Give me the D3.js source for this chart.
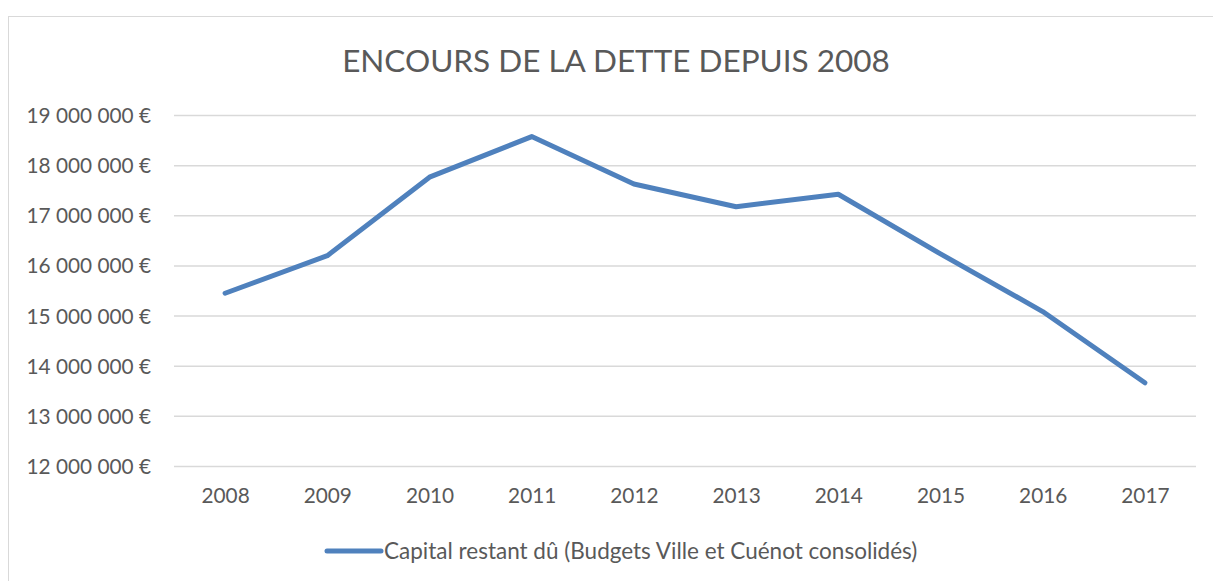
<!DOCTYPE html>
<html>
<head>
<meta charset="utf-8">
<script src="https://cdn.jsdelivr.net/npm/d3@7"></script>
<style>
  body { margin: 0; background: #fff; }
  text { font-family: Lato, "Open Sans", sans-serif; fill: #595959; }
</style>
</head>
<body>
<script>
// données
const annees = ["2008", "2009", "2010", "2011", "2012", "2013", "2014", "2015", "2016", "2017"];
const capital = [15445000, 16195000, 17760000, 18570000, 17625000, 17170000, 17420000, 16230000, 15080000, 13660000];
const graduations = [12000000, 13000000, 14000000, 15000000, 16000000, 17000000, 18000000, 19000000];
const titre = "ENCOURS DE LA DETTE DEPUIS 2008";
const serieNom = "Capital restant dû (Budgets Ville et Cuénot consolidés)";

const largeur = 1213, hauteur = 581;
const marge = { haut: 115, droite: 17, bas: 115, gauche: 174 };
const bleu = "#4F81BD";

const svg = d3.select("body").append("svg")
    .attr("width", largeur)
    .attr("height", hauteur);

// cadre du graphique
svg.append("rect")
    .attr("x", 8.5).attr("y", 16.5)
    .attr("width", largeur + 10).attr("height", hauteur)
    .attr("fill", "none")
    .attr("stroke", "#d9d9d9")
    .attr("stroke-width", 1);

// titre
svg.append("text")
    .attr("x", 616).attr("y", 72)
    .attr("text-anchor", "middle")
    .style("font-size", "31.5px")
    .text(titre);

const x = d3.scalePoint()
    .domain(annees)
    .range([marge.gauche, largeur - marge.droite])
    .padding(0.5);

const y = d3.scaleLinear()
    .domain([12000000, 19000000])
    .range([466, 115]);

// format français : espaces comme séparateur de milliers
const fr = d3.formatLocale({ decimal: ",", thousands: "\u00a0", grouping: [3], currency: ["", " €"] });
const fmt = v => fr.format(",")(v) + " €";

// axe vertical + quadrillage
const axeY = svg.append("g")
    .attr("transform", `translate(${marge.gauche},0)`)
    .call(d3.axisLeft(y)
        .tickValues(graduations)
        .tickSize(-(largeur - marge.droite - marge.gauche))
        .tickPadding(23)
        .tickFormat(fmt));
axeY.select(".domain").remove();
axeY.selectAll(".tick line").attr("stroke", "#d9d9d9").attr("stroke-width", 1.5);
axeY.selectAll(".tick text")
    .attr("dy", "0.36em")
    .style("font-size", "20.8px")
    .style("fill", "#595959")
    .style("font-family", "Lato, sans-serif");

// axe horizontal
const axeX = svg.append("g")
    .attr("transform", "translate(0,466)")
    .call(d3.axisBottom(x).tickSize(0).tickPadding(22));
axeX.select(".domain").remove();
axeX.selectAll(".tick text")
    .style("font-size", "20.8px")
    .style("fill", "#595959")
    .style("font-family", "Lato, sans-serif");

// courbe
const ligne = d3.line()
    .x((d, i) => x(annees[i]))
    .y(d => y(d));

svg.append("path")
    .datum(capital)
    .attr("d", ligne)
    .attr("fill", "none")
    .attr("stroke", bleu)
    .attr("stroke-width", 5)
    .attr("stroke-linejoin", "round")
    .attr("stroke-linecap", "round");

// légende
const leg = svg.append("g").attr("transform", "translate(0,551)");
leg.append("line")
    .attr("x1", 327).attr("x2", 381)
    .attr("stroke", bleu)
    .attr("stroke-width", 5)
    .attr("stroke-linecap", "round");
leg.append("text")
    .attr("x", 384).attr("dy", "0.36em")
    .style("font-size", "22.5px")
    .text(serieNom);
</script>
</body>
</html>
